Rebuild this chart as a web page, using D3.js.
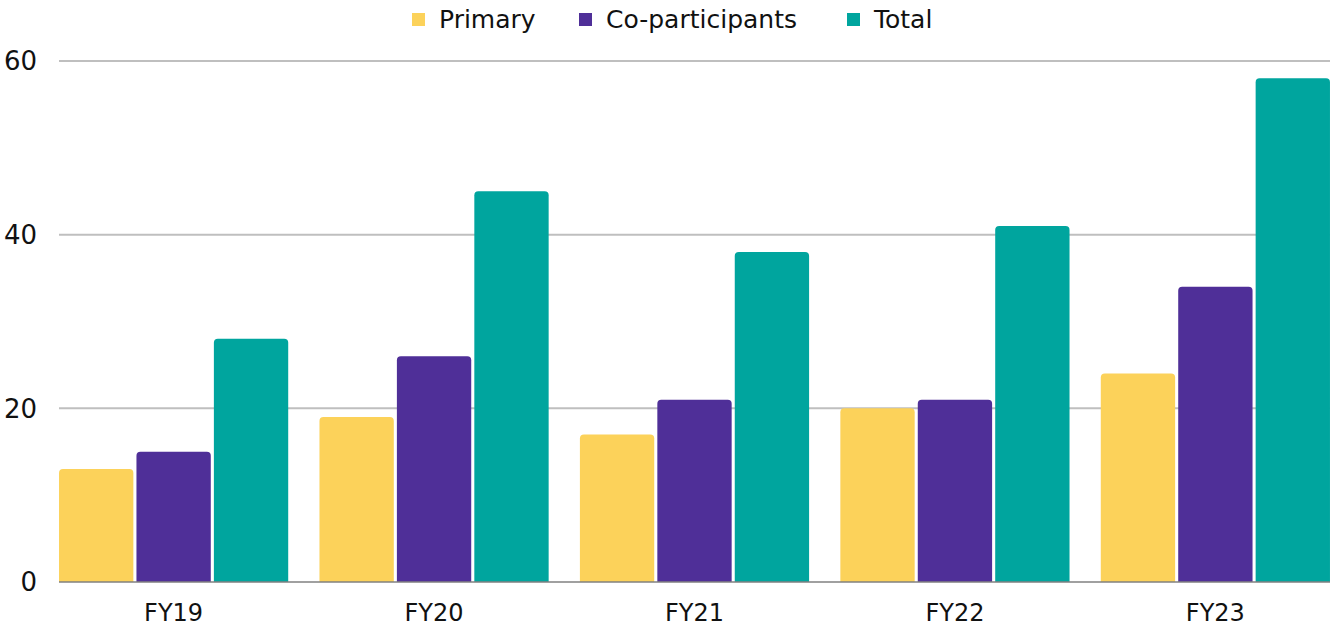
<!DOCTYPE html>
<html>
<head>
<meta charset="utf-8">
<script src="https://cdn.jsdelivr.net/npm/d3@7"></script>
<style>
  body { margin: 0; background: #fff; }
  text { font-family: "DejaVu Sans", sans-serif; fill: #111; }
</style>
</head>
<body>
<script>
// data
var years = ['FY19', 'FY20', 'FY21', 'FY22', 'FY23'];
var seriesNames = ['Primary', 'Co-participants', 'Total'];
var primary = [13, 19, 17, 20, 24];
var coParticipants = [15, 26, 21, 21, 34];
var total = [28, 45, 38, 41, 58];
var yTicks = [0, 20, 40, 60];

var colors = ['#fcd25a', '#4f2f98', '#00a59e'];
var seriesValues = [primary, coParticipants, total];

var width = 1330, height = 627;
var plotLeft = 59, plotRight = 1330, plotTop = 61, plotBottom = 582;

var svg = d3.select('body').append('svg')
    .attr('width', width)
    .attr('height', height);

//scales
var x0 = d3.scaleBand().domain(years).range([43.4, 1345.6])
    .paddingInner(0.12).paddingOuter(0.06);
var x1 = d3.scaleBand().domain(d3.range(3)).range([0, x0.bandwidth()])
    .paddingInner(0.04).paddingOuter(0);
var yScale = d3.scaleLinear().domain([0, 60]).range([plotBottom, plotTop]);

//gridlines
svg.append('g').selectAll('line')
    .data(yTicks.filter(function(d) { return d > 0; }))
    .enter().append('line')
    .attr('x1', plotLeft).attr('x2', plotRight)
    .attr('y1', function(d) { return yScale(d); })
    .attr('y2', function(d) { return yScale(d); })
    .attr('stroke', '#bfbfbf').attr('stroke-width', 2);

//bars
var rows = years.map(function(y, i) {
    return seriesValues.map(function(s, j) { return {year: y, k: j, v: s[i]}; });
});
var r = 4;
svg.append('g').selectAll('g')
    .data(rows).enter().append('g')
    .attr('transform', function(d, i) { return 'translate(' + x0(years[i]) + ',0)'; })
    .selectAll('path')
    .data(function(d) { return d; })
    .enter().append('path')
    .attr('fill', function(d) { return colors[d.k]; })
    .attr('d', function(d) {
        var xa = x1(d.k), w = x1.bandwidth(), yt = yScale(d.v), yb = yScale(0);
        return 'M' + xa + ',' + yb + 'V' + (yt + r) +
            'Q' + xa + ',' + yt + ' ' + (xa + r) + ',' + yt +
            'H' + (xa + w - r) +
            'Q' + (xa + w) + ',' + yt + ' ' + (xa + w) + ',' + (yt + r) +
            'V' + yb + 'Z';
    });

//baseline
svg.append('line')
    .attr('x1', plotLeft).attr('x2', plotRight)
    .attr('y1', plotBottom).attr('y2', plotBottom)
    .attr('stroke', '#808080').attr('stroke-width', 1.5);

//y labels
svg.append('g').selectAll('text')
    .data(yTicks).enter().append('text')
    .attr('x', 37)
    .attr('y', function(d) { return yScale(d); })
    .attr('dy', '0.36em')
    .attr('text-anchor', 'end')
    .style('font-size', '26px')
    .text(function(d) { return d; });

//x labels
svg.append('g').selectAll('text')
    .data(years).enter().append('text')
    .attr('x', function(d) { return x0(d) + x0.bandwidth() / 2; })
    .attr('y', 612)
    .attr('dy', '0.36em')
    .attr('text-anchor', 'middle')
    .style('font-size', '24px')
    .text(function(d) { return d; });

//legend
var legendX = [412, 579, 847];
var legend = svg.append('g').selectAll('g')
    .data(seriesNames).enter().append('g')
    .attr('transform', function(d, i) { return 'translate(' + legendX[i] + ',13)'; });
legend.append('rect')
    .attr('width', 13).attr('height', 13)
    .attr('fill', function(d, i) { return colors[i]; });
legend.append('text')
    .attr('x', 27).attr('y', 6).attr('dy', '0.36em')
    .style('font-size', '25px')
    .text(function(d) { return d; });
</script>
</body>
</html>
